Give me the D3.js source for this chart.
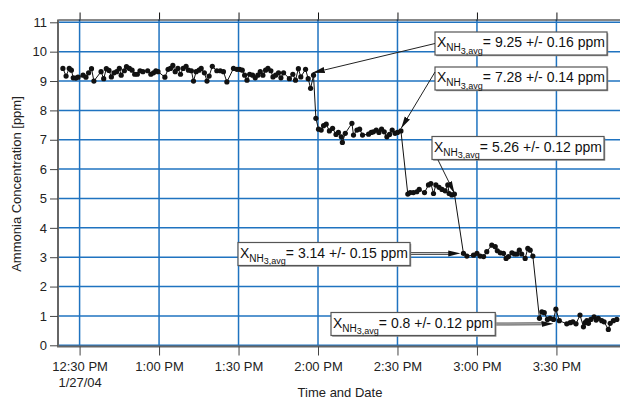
<!DOCTYPE html>
<html>
<head>
<meta charset="utf-8">
<script src="https://cdn.jsdelivr.net/npm/d3@7"></script>
<style>
  body { margin: 0; background: #fff; }
  svg { display: block; font-family: "Liberation Sans", Arial, Helvetica, sans-serif; }
</style>
</head>
<body>
<svg id="chart" width="620" height="399"></svg>
<script>
// minutes after 12:00 noon on 1/27/04
const times = [
  23.7,24.9,26.1,26.9,27.6,28.6,29.4,31.3,32.4,33.4,34.5,35.4,38.1,39.1,40.1,41.1,42.0,43.0,44.0,45.0,
  45.7,46.9,47.7,48.8,49.8,50.8,51.8,52.8,53.9,55.7,56.9,57.9,58.8,59.6,62.2,63.4,64.3,65.2,66.1,67.1,
  68.1,69.1,70.2,71.1,72.2,73.0,74.0,75.1,75.9,77.1,78.1,78.9,80.1,81.8,83.1,84.3,85.6,88.1,89.4,90.4,
  91.4,92.3,93.2,94.2,95.3,96.3,97.3,98.2,99.2,100.2,101.1,102.2,103.0,104.0,105.1,106.0,107.0,109.2,110.5,111.5,
  112.6,113.5,115.3,116.3,117.2,118.3,
  119.2,120.2,121.2,122.1,123.1,124.3,125.5,126.8,127.7,128.8,129.2,130.3,132.8,133.4,134.7,135.7,136.8,139.1,140.1,140.9,
  142.0,143.0,144.0,145.0,146.0,147.0,148.0,149.1,150.0,151.3,
  153.9,154.8,156.0,157.3,158.2,160.2,161.7,162.6,163.6,164.5,165.7,166.8,168.0,169.0,169.5,170.5,171.5,
  174.9,176.2,178.7,180.0,181.2,182.5,183.7,185.6,186.9,187.7,188.8,190.0,191.0,191.9,193.2,194.2,195.1,196.0,196.9,198.2,
  199.2,200.1,201.1,
  203.6,204.5,205.4,206.6,207.6,208.9,209.8,211.1,213.9,215.2,216.2,217.4,218.9,220.2,220.8,221.5,222.1,223.0,224.2,225.0,
  225.8,227.1,228.0,229.6,230.3,231.5,232.8
];
const values = [
  9.43,9.17,9.43,9.37,9.11,9.1,9.13,9.2,9.13,9.28,9.42,9.0,9.32,9.08,9.42,9.36,9.14,9.28,9.32,9.43,
  9.2,9.35,9.49,9.43,9.37,9.23,9.23,9.35,9.32,9.35,9.23,9.28,9.35,9.32,9.13,9.4,9.43,9.53,9.32,9.43,
  9.23,9.43,9.5,9.37,9.35,9.0,9.32,9.37,9.43,9.28,9.0,9.17,9.5,9.35,9.35,9.32,8.97,9.43,9.4,9.4,
  9.37,9.2,9.03,9.23,9.2,9.11,9.2,9.32,9.2,9.37,9.43,9.35,9.14,9.2,9.28,9.11,9.28,9.08,9.23,9.03,
  9.42,9.14,9.4,9.08,8.75,9.2,
  7.73,7.36,7.33,7.48,7.53,7.3,7.39,7.18,7.25,7.1,6.91,7.22,7.56,7.16,7.33,7.36,7.16,7.19,7.25,7.27,
  7.33,7.25,7.36,7.27,7.1,7.18,7.33,7.22,7.25,7.3,
  5.15,5.2,5.2,5.23,5.31,5.2,5.46,5.51,5.17,5.46,5.38,5.31,5.26,5.46,5.17,5.12,5.15,
  3.13,3.04,3.07,3.13,3.04,3.02,3.19,3.41,3.36,3.22,3.15,3.13,2.96,3.02,3.15,3.11,3.11,3.24,3.11,2.96,
  3.3,3.24,3.04,
  0.92,1.14,1.11,0.88,0.92,0.88,1.23,0.84,0.73,0.77,0.8,0.73,1.03,0.63,0.77,0.84,0.75,0.88,0.97,0.86,
  0.92,0.84,0.8,0.54,0.75,0.84,0.88
];

const tickTimes = ["12:30", "13:00", "13:30", "14:00", "14:30", "15:00", "15:30"];
const yTicks = [0,1,2,3,4,5,6,7,8,9,10,11];

// averaged levels and where their arrows point (minutes after noon, ppm)
const avgValues = ["9.25", "7.28", "5.26", "3.14", "0.8"];
const avgErrors = ["0.16", "0.14", "0.12", "0.15", "0.12"];
const arrowTipTimes = [118.0, 151.4, 171.5, 173.7, 208.9];
const arrowTipValues = [9.28, 7.39, 5.18, 3.13, 0.73];

// box placement (pixels)
const boxLayout = [
  {x: 435, y: 32, sx: 435, sy: 43.5, dbl: false},
  {x: 435, y: 67, sx: 435, sy: 72, dbl: false},
  {x: 432, y: 136.5, sx: 438, sy: 160, dbl: false},
  {x: 238, y: 242.5, sx: null, sy: 253.5, dbl: true},
  {x: 331, y: 312.5, sx: null, sy: 324, dbl: true}
];

const day = new Date(2004, 0, 27, 12, 0, 0);
const toDate = m => new Date(day.getTime() + m * 60000);
const toTick = s => { const [h, mm] = s.split(":").map(Number); return new Date(2004, 0, 27, h, mm); };

const svg = d3.select("#chart");
const plotLeft = 58, plotRight = 620, plotTop = 19.5;

const x = d3.scaleTime()
  .domain([toDate(21.85), toDate(234.0)])
  .range([plotLeft, plotRight]);
const y = d3.scaleLinear()
  .domain([0, 11])
  .range([345.3, 22.3]);

const gridColor = "#1f73c0";
const tickDates = tickTimes.map(toTick);

// grid
const grid = svg.append("g");
grid.selectAll(".hg").data(yTicks).enter().append("line")
  .attr("x1", plotLeft).attr("x2", plotRight)
  .attr("y1", d => y(d)).attr("y2", d => y(d))
  .attr("stroke", gridColor).attr("stroke-width", 1.5);
grid.selectAll(".vg").data(tickDates).enter().append("line")
  .attr("x1", d => x(d)).attr("x2", d => x(d))
  .attr("y1", plotTop).attr("y2", 346)
  .attr("stroke", gridColor).attr("stroke-width", 1.5);

// top axis
const topAxis = svg.append("g")
  .attr("transform", `translate(0,${plotTop})`)
  .call(d3.axisTop(x).tickValues(tickDates).tickSize(7).tickSizeOuter(0).tickFormat(""));
topAxis.select(".domain").attr("stroke", "#111").attr("stroke-width", 1);
topAxis.selectAll(".tick line").attr("stroke", "#111");

// left axis
const leftAxis = svg.append("g")
  .attr("transform", `translate(${plotLeft},0)`)
  .call(d3.axisLeft(y).tickValues(yTicks).tickSize(8).tickSizeOuter(0).tickPadding(3));
leftAxis.select(".domain").attr("stroke", "#666").attr("stroke-width", 2)
  .attr("d", `M0,${plotTop}V347`);
leftAxis.selectAll(".tick line").attr("stroke", "#444");
leftAxis.selectAll(".tick text").attr("font-size", 13).attr("fill", "#222")
  .attr("font-family", "Liberation Sans, Arial, sans-serif");

// bottom axis
const bottomAxis = svg.append("g")
  .attr("transform", "translate(0,346.5)")
  .call(d3.axisBottom(x).tickValues(tickDates).tickSize(9).tickSizeOuter(0)
    .tickFormat(d3.timeFormat("%-I:%M %p")).tickPadding(6));
bottomAxis.select(".domain").attr("stroke", "#666").attr("stroke-width", 2)
  .attr("d", `M${plotLeft - 1},0H${plotRight}`);
bottomAxis.selectAll(".tick line").attr("stroke", "#444");
bottomAxis.selectAll(".tick text").attr("font-size", 13).attr("fill", "#222")
  .attr("font-family", "Liberation Sans, Arial, sans-serif");
bottomAxis.select(".tick text").clone()
  .attr("dy", "1.95em").text(d3.timeFormat("%-m/%d/%y")(day));

// axis titles
svg.append("text")
  .attr("transform", "translate(21,184) rotate(-90)")
  .attr("text-anchor", "middle")
  .attr("font-size", 13).attr("fill", "#222")
  .text("Ammonia Concentration [ppm]");
svg.append("text")
  .attr("x", 340).attr("y", 397)
  .attr("text-anchor", "middle")
  .attr("font-size", 13).attr("fill", "#222")
  .text("Time and Date");

// data
const pts = times.map((t, i) => ({t: toDate(t), v: values[i]}));
svg.append("path")
  .datum(pts)
  .attr("fill", "none")
  .attr("stroke", "#111")
  .attr("stroke-width", 1)
  .attr("d", d3.line().x(d => x(d.t)).y(d => y(d.v)));
svg.selectAll(".pt").data(pts).enter().append("circle")
  .attr("cx", d => x(d.t)).attr("cy", d => y(d.v))
  .attr("r", 2.6).attr("fill", "#111");

// arrowhead
svg.append("defs").append("marker")
  .attr("id", "head")
  .attr("markerUnits", "userSpaceOnUse")
  .attr("viewBox", "0 -4 12 8")
  .attr("refX", 12).attr("refY", 0)
  .attr("markerWidth", 12).attr("markerHeight", 8)
  .attr("orient", "auto")
  .append("path").attr("d", "M0,-3L12,0L0,3Z").attr("fill", "#111");

// annotation boxes
avgValues.forEach((v, i) => {
  const L = boxLayout[i];
  const g = svg.append("g");
  const shadow = g.append("rect");
  const rect = g.append("rect");
  const txt = g.append("text")
    .attr("x", L.x + 2).attr("y", L.y + 15)
    .attr("font-size", 14).attr("fill", "#111");
  txt.append("tspan").text("X");
  txt.append("tspan").attr("font-size", 10).attr("dy", 4).text("NH");
  txt.append("tspan").attr("font-size", 9).attr("dy", 2.5).text("3,avg");
  txt.append("tspan").attr("dy", -6.5).text(`= ${v} +/- ${avgErrors[i]} ppm`);
  const bb = txt.node().getBBox();
  const w = bb.width + 4, h = 23;
  shadow.attr("x", L.x + 1.2).attr("y", L.y + 1.2).attr("width", w).attr("height", h)
    .attr("fill", "#888");
  rect.attr("x", L.x).attr("y", L.y).attr("width", w).attr("height", h)
    .attr("fill", "#fff").attr("stroke", "#555").attr("stroke-width", 1.2);

  const sx = L.sx === null ? L.x + w + 1 : L.sx;
  const tx = x(toDate(arrowTipTimes[i])), ty = y(arrowTipValues[i]);
  if (L.dbl) {
    svg.append("line")
      .attr("x1", sx).attr("y1", L.sy).attr("x2", tx - 10).attr("y2", ty)
      .attr("stroke", "#555").attr("stroke-width", 3);
    svg.append("line")
      .attr("x1", sx).attr("y1", L.sy).attr("x2", tx - 10).attr("y2", ty)
      .attr("stroke", "#ccc").attr("stroke-width", 1);
  }
  svg.append("line")
    .attr("x1", sx).attr("y1", L.sy).attr("x2", tx).attr("y2", ty)
    .attr("stroke", L.dbl ? "none" : "#222").attr("stroke-width", 1)
    .attr("marker-end", "url(#head)");
});
</script>
</body>
</html>
